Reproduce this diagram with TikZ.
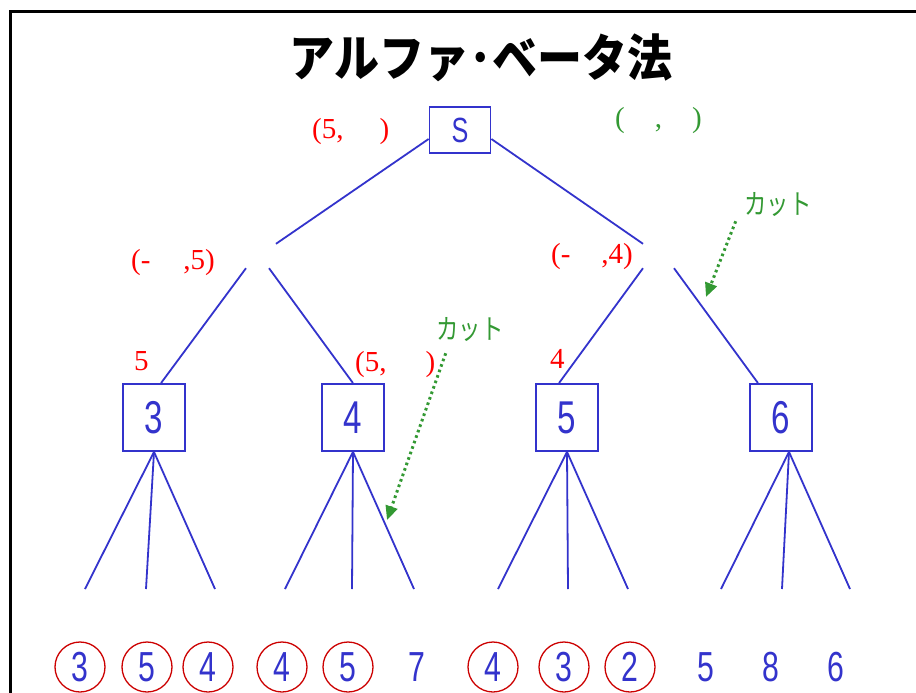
\documentclass[tikz,border=0pt]{standalone}
\usepackage{fontspec}
\usepackage{graphicx}
\usetikzlibrary{arrows.meta}
\setmainfont{Liberation Serif}
\newfontfamily\cjk{Noto Sans CJK JP}
\newfontfamily\numfont{Liberation Sans}
\definecolor{nblue}{RGB}{51,51,204}
\definecolor{lred}{RGB}{255,0,0}
\definecolor{cred}{RGB}{204,0,0}
\definecolor{lgreen}{RGB}{51,153,51}
\newcommand{\nn}[1]{{\numfont\scalebox{0.72}[1]{#1}}}
\begin{document}
\begin{tikzpicture}[x=1pt,y=-1pt,
  edge/.style={draw=nblue,line width=1.8pt},
  treebox/.style={draw=nblue,line width=1.8pt,minimum width=62pt,minimum height=67pt,inner sep=0pt,text=nblue,font=\fontsize{46}{46}\selectfont},
  hid/.style={rectangle,minimum width=40pt,minimum height=24pt,inner sep=0pt},
  leafc/.style={circle,draw=cred,line width=1.3pt,minimum size=50pt,inner sep=0pt,text=nblue,font=\fontsize{42}{42}\selectfont},
  leaft/.style={inner sep=0pt,minimum size=50pt,text=nblue,font=\fontsize{42}{42}\selectfont},
  rlab/.style={anchor=base west,inner sep=0pt,text=lred,font=\fontsize{29}{29}\selectfont},
  glab/.style={anchor=base west,inner sep=0pt,text=lgreen,font=\fontsize{29}{29}\selectfont},
  cut/.style={inner sep=0pt,text=lgreen,font=\cjk\fontsize{28}{28}\selectfont},
  cutarrow/.style={draw=lgreen,line width=3pt,dash pattern=on 2.6pt off 3.2pt,-{Triangle[length=14pt,width=12pt]}}
]
\useasboundingbox (0,0) rectangle (916,693);
\fill[white] (0,0) rectangle (916,693);
\draw[line width=3pt] (916,11.5) -- (10,11.5) -- (10,693);

\node (title) at (481,57.5) {\cjk\bfseries\fontsize{50}{50}\selectfont\scalebox{0.9}[1]{アルファ･ベータ法}};

% tree nodes
\node[treebox,minimum width=61pt,minimum height=46pt,font=\fontsize{35}{35}\selectfont] (S) at (460,130) {\nn{S}};
\node[hid] (h1) at (257,256) {};
\node[hid] (h2) at (658,256) {};
\node[treebox] (b3) at (154,417.5) {\nn{3}};
\node[treebox] (b4) at (353,417.5) {\nn{4}};
\node[treebox] (b5) at (567,417.5) {\nn{5}};
\node[treebox] (b6) at (781,417.5) {\nn{6}};

\draw[edge] ([yshift=-9pt]S.west) -- ([xshift=19pt]h1.north);
\draw[edge] ([yshift=-9pt]S.east) -- ([xshift=-15pt]h2.north);
\draw[edge] ([xshift=-11pt]h1.south) -- ([xshift=7pt]b3.north);
\draw[edge] ([xshift=12pt]h1.south) -- (b4.north);
\draw[edge] ([xshift=-15pt]h2.south) -- ([xshift=-8pt]b5.north);
\draw[edge] ([xshift=16pt]h2.south) -- ([xshift=-23pt]b6.north);

% leaf branch ends
\coordinate (e1) at (85,589);
\coordinate (e2) at (146,589);
\coordinate (e3) at (215,589);
\coordinate (e4) at (285,589);
\coordinate (e5) at (352,589);
\coordinate (e6) at (414,589);
\coordinate (e7) at (498,589);
\coordinate (e8) at (568,589);
\coordinate (e9) at (628,589);
\coordinate (e10) at (721,589);
\coordinate (e11) at (782,589);
\coordinate (e12) at (850,589);

\draw[edge] (b3.south) -- (e1); \draw[edge] (b3.south) -- (e2); \draw[edge] (b3.south) -- (e3);
\draw[edge] (b4.south) -- (e4); \draw[edge] (b4.south) -- (e5); \draw[edge] (b4.south) -- (e6);
\draw[edge] (b5.south) -- (e7); \draw[edge] (b5.south) -- (e8); \draw[edge] (b5.south) -- (e9);
\draw[edge] ([xshift=8pt]b6.south) -- (e10); \draw[edge] ([xshift=8pt]b6.south) -- (e11); \draw[edge] ([xshift=8pt]b6.south) -- (e12);

% leaves
\node[leafc] (l1) at (80,667) {\nn{3}};
\node[leafc] (l2) at (147,667) {\nn{5}};
\node[leafc] (l3) at (208,667) {\nn{4}};
\node[leafc] (l4) at (282,667) {\nn{4}};
\node[leafc] (l5) at (348,667) {\nn{5}};
\node[leaft] (l6) at (417,667) {\nn{7}};
\node[leafc] (l7) at (493,667) {\nn{4}};
\node[leafc] (l8) at (564,667) {\nn{3}};
\node[leafc] (l9) at (630,667) {\nn{2}};
\node[leaft] (l10) at (706,667) {\nn{5}};
\node[leaft] (l11) at (771,667) {\nn{8}};
\node[leaft] (l12) at (836,667) {\nn{6}};

% value labels
\node[rlab] (r1) at (312,139) {(5,\hspace{36pt})};
\node[glab] (g1) at (615,128) {(\hspace{30pt},\hspace{30pt})};
\node[rlab] (r2) at (131,269) {(-\hspace{33pt},5)};
\node[rlab] (r3) at (551,263) {(-\hspace{31pt},4)};
\node[rlab] (r4) at (134,370) {5};
\node[rlab] (r5) at (355,371) {(5,\hspace{39pt})};
\node[rlab] (r6) at (550,368) {4};

% cuts
\node[cut] (c1) at (778,205) {\scalebox{0.8}[1]{カット}};
\node[cut] (c2) at (470,330) {\scalebox{0.8}[1]{カット}};
\coordinate (t1) at (706,297);
\coordinate (t2) at (387,520);
\draw[cutarrow] ([shift={(-8.5pt,-4pt)}]c1.south west) -- (t1);
\draw[cutarrow] ([shift={(9.5pt,-11pt)}]c2.south west) -- (t2);
\end{tikzpicture}
\end{document}
